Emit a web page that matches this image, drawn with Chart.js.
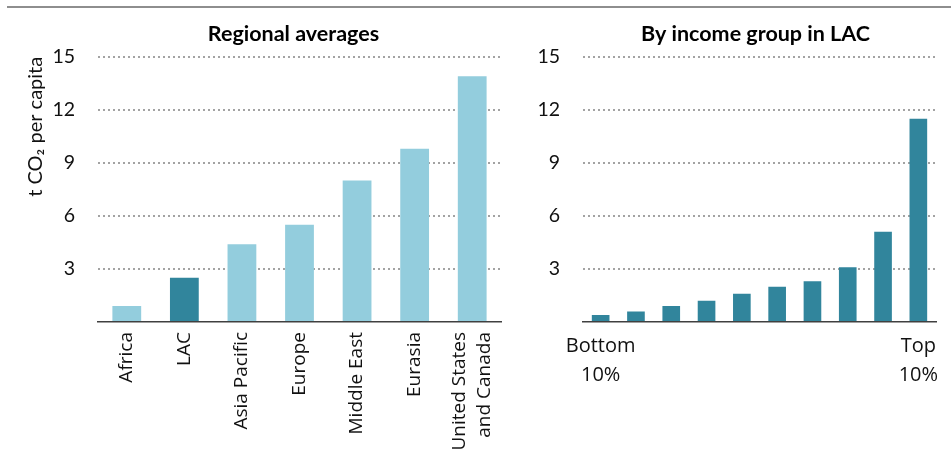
<!DOCTYPE html>
<html>
<head>
<meta charset="utf-8">
<script src="https://cdn.jsdelivr.net/npm/chart.js@4"></script>
<style>
  html, body { margin: 0; padding: 0; background: #fff; }
  body { width: 951px; height: 450px; position: relative; overflow: hidden; }
  #topline { position: absolute; left: 7px; top: 6px; width: 944px; height: 2px; background: #8e8e8e; }
  #wrapL { position: absolute; left: 0; top: 0; width: 520px; height: 450px; }
  #wrapR { position: absolute; left: 520px; top: 0; width: 431px; height: 450px; }
</style>
</head>
<body>
<div id="topline"></div>
<div id="wrapL"><canvas id="left"></canvas></div>
<div id="wrapR"><canvas id="right"></canvas></div>
<script>
// ---- data ----
const regionLabels = ['Africa', 'LAC', 'Asia Pacific', 'Europe', 'Middle East', 'Eurasia', ['United States', 'and Canada']];
const regionValues = [0.9, 2.5, 4.4, 5.5, 8.0, 9.8, 13.9];
const highlightRegion = 'LAC';
const incomeLabels = [['Bottom', '10%'], '', '', '', '', '', '', '', '', ['Top', '10%']];
const incomeValues = [0.4, 0.6, 0.9, 1.2, 1.6, 2.0, 2.3, 3.1, 5.1, 11.5];
const yTickValues = [0, 3, 6, 9, 12, 15];
const leftTitle = 'Regional averages';
const rightTitle = 'By income group in LAC';
const yAxisTitle = 't CO\u2082 per capita';

// ---- style ----
const LIGHT = '#93cddd';
const DARK = '#31859c';
const GRID = '#a3a3a3';
const AXIS = '#404040';
const TXT = '#111111';
const calibri = 'Lato, "Liberation Sans", sans-serif';
const segoe = '"Open Sans", "DejaVu Sans", sans-serif';

function yScale(widthPx, showTitle) {
  return {
    min: yTickValues[0],
    max: yTickValues[yTickValues.length - 1],
    afterBuildTicks: (s) => { s.ticks = yTickValues.map(v => ({ value: v })); },
    afterFit: (s) => { s.width = widthPx; s.paddingTop = 0; s.paddingBottom = 0; },
    grid: {
      drawTicks: false,
      color: (c) => c.tick && c.tick.value === 0 ? 'rgba(0,0,0,0)' : GRID,
      lineWidth: 2,
      tickLength: 0
    },
    border: { display: false, dash: [2, 3] },
    ticks: {
      padding: 23,
      color: TXT,
      font: { family: calibri, size: 19.5 },
      callback: (v) => v === 0 ? '' : String(v)
    },
    title: {
      display: showTitle,
      text: yAxisTitle,
      align: 'end',
      color: TXT,
      font: { family: calibri, size: 20 },
      padding: { top: 24, bottom: 0 }
    }
  };
}

function xScale(labelsFont, rotation, pad, lh) {
  return {
    afterFit: (s) => { s.height = 128; s.paddingLeft = 0; s.paddingRight = 0; },
    grid: { display: false, drawTicks: false },
    border: { display: true, color: AXIS, width: 1.5 },
    ticks: {
      autoSkip: false,
      minRotation: rotation,
      maxRotation: rotation,
      padding: pad,
      color: TXT,
      font: { family: segoe, size: labelsFont, lineHeight: lh }
    }
  };
}

// centre multi-line rotated category labels on their tick
const centreRotatedLabels = {
  id: 'centreRotatedLabels',
  beforeDraw(chart) {
    const s = chart.scales.x;
    if (!s || s.labelRotation === 0) return;
    const items = s.getLabelItems(chart.chartArea);
    items.forEach(it => {
      if (it._centred) return;
      const n = Array.isArray(it.label) ? it.label.length : 1;
      if (n > 1) it.options.translation[0] -= (n - 1) * it.font.lineHeight / 2;
      it._centred = true;
    });
  }
};

// nudge the chart title horizontally (title centred slightly left of plot centre)
function titleNudge(dx) {
  return {
    id: 'titleNudge',
    afterLayout(chart) {
      const t = chart.titleBlock;
      if (t) { t.left += dx; t.right += dx; }
    }
  };
}

function titleOpts(text) {
  return {
    display: true,
    text: text,
    fullSize: false,
    color: '#000',
    font: { family: calibri, size: 21.5, weight: 'bold', lineHeight: 1.2 },
    padding: { top: 0, bottom: 10 }
  };
}

new Chart(document.getElementById('left'), {
  type: 'bar',
  data: {
    labels: regionLabels,
    datasets: [{
      data: regionValues,
      backgroundColor: regionLabels.map(l => l === highlightRegion ? DARK : LIGHT),
      categoryPercentage: 1,
      barPercentage: 0.5
    }]
  },
  plugins: [centreRotatedLabels, titleNudge(-6)],
  options: {
    responsive: true,
    maintainAspectRatio: false,
    animation: false,
    layout: { padding: { top: 21, left: 0, right: 19, bottom: 0 } },
    plugins: { legend: { display: false }, tooltip: { enabled: false }, title: titleOpts(leftTitle) },
    scales: { x: xScale(19, 90, 10, 1.3), y: yScale(98, true) }
  }
});

new Chart(document.getElementById('right'), {
  type: 'bar',
  data: {
    labels: incomeLabels,
    datasets: [{
      data: incomeValues,
      backgroundColor: DARK,
      categoryPercentage: 1,
      barPercentage: 0.5
    }]
  },
  plugins: [titleNudge(-4)],
  options: {
    responsive: true,
    maintainAspectRatio: false,
    animation: false,
    layout: { padding: { top: 21, left: 0, right: 15, bottom: 0 } },
    plugins: { legend: { display: false }, tooltip: { enabled: false }, title: titleOpts(rightTitle) },
    scales: { x: xScale(20, 0, 10, 1.45), y: yScale(63, false) }
  }
});
</script>
</body>
</html>
